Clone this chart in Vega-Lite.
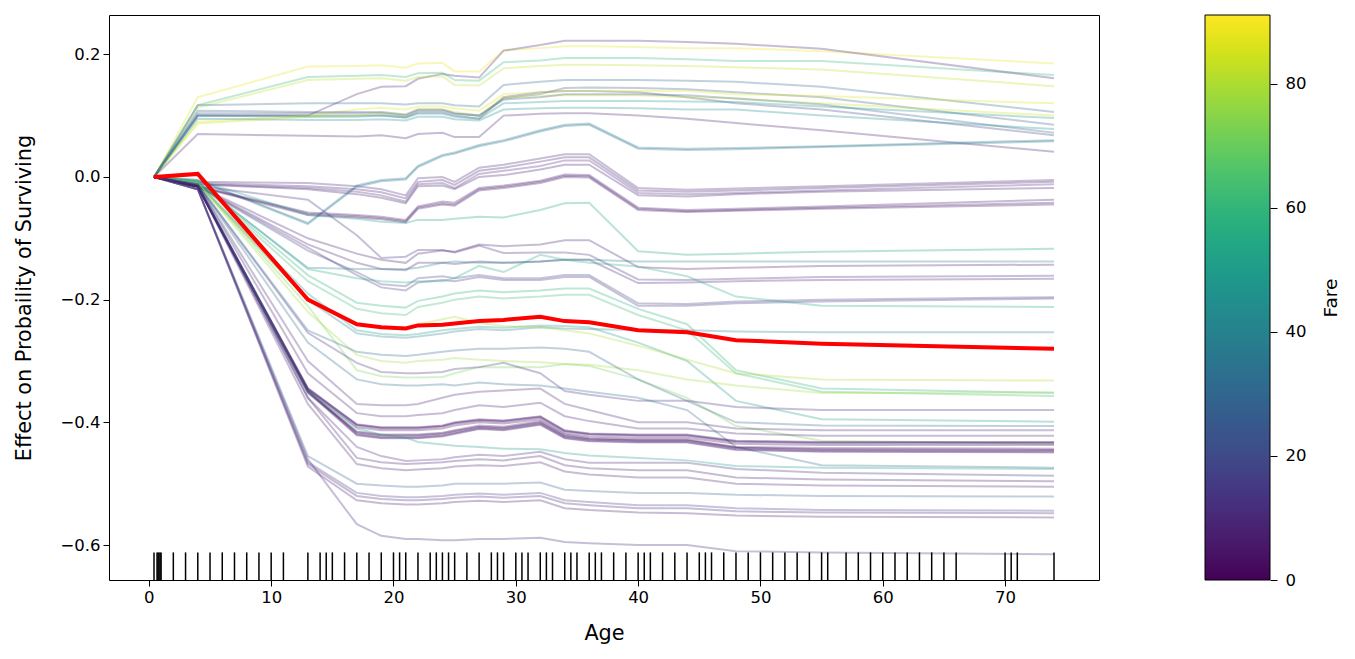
{
"$schema": "https://vega.github.io/schema/vega-lite/v6.json",
"width": 990, "height": 565,
"autosize": {"type": "none"},
"padding": {"left": 109, "top": 15, "right": 256, "bottom": 79},
"config": {"font": "DejaVu Sans", "view": {"stroke": "black", "strokeWidth": 1},
 "axis": {"labelFontSize": 16.5, "titleFontSize": 20.8, "labelColor": "black", "titleColor": "black", "tickColor": "black", "tickSize": 6, "tickWidth": 1, "grid": false, "domain": false, "titleFontWeight": "normal", "labelFont": "DejaVu Sans", "titleFont": "DejaVu Sans"},
 "legend": {"labelFont": "DejaVu Sans", "titleFont": "DejaVu Sans"}},
"datasets": {
"fares": [{"l":"U1","f":88},{"l":"U2","f":9},{"l":"U3","f":60},{"l":"U4","f":82},{"l":"U5","f":30},{"l":"U6","f":25},{"l":"U7","f":18},{"l":"U8","f":86},{"l":"U9","f":84},{"l":"U10","f":48},{"l":"U11","f":45},{"l":"U12","f":8},{"l":"U13","f":28},{"l":"S1","f":35},{"l":"S2","f":37},{"l":"N1","f":10},{"l":"N2","f":7},{"l":"N3","f":12},{"l":"N4","f":6},{"l":"P1","f":7},{"l":"P2","f":8},{"l":"P3","f":5},{"l":"T1","f":52},{"l":"Q1","f":12},{"l":"M1","f":7},{"l":"M2","f":9},{"l":"M3","f":18},{"l":"M4","f":14},{"l":"T2","f":40},{"l":"T4","f":55},{"l":"T5","f":58},{"l":"T6","f":62},{"l":"LB2","f":38},{"l":"T7","f":50},{"l":"Y1","f":80},{"l":"G1","f":72},{"l":"Y2","f":78},{"l":"PU1","f":12},{"l":"LB3","f":30},{"l":"LB4","f":32},{"l":"PK1","f":10},{"l":"LV3","f":9},{"l":"D1","f":6},{"l":"D2","f":7},{"l":"D3","f":4},{"l":"D4","f":8},{"l":"D5","f":11},{"l":"D6","f":5},{"l":"D7","f":7},{"l":"D8","f":3},{"l":"D9","f":6},{"l":"D10","f":9},{"l":"T3","f":50},{"l":"LV1","f":8},{"l":"LV2","f":9},{"l":"L1","f":10},{"l":"L2","f":28},{"l":"L3","f":15},{"l":"L4","f":10},{"l":"L5","f":8}],
"mean": [{"a":0.42,"v":0},{"a":4,"v":0.005},{"a":13,"v":-0.2},{"a":17,"v":-0.24},{"a":19,"v":-0.245},{"a":21,"v":-0.247},{"a":22,"v":-0.242},{"a":24,"v":-0.241},{"a":25,"v":-0.239},{"a":27,"v":-0.235},{"a":29,"v":-0.233},{"a":32,"v":-0.228},{"a":34,"v":-0.235},{"a":36,"v":-0.237},{"a":40,"v":-0.25},{"a":44,"v":-0.253},{"a":48,"v":-0.266},{"a":55,"v":-0.272},{"a":74,"v":-0.28}],
"rug": [{"a":0.42},{"a":0.67},{"a":0.75},{"a":0.83},{"a":0.92},{"a":1},{"a":2},{"a":3},{"a":4},{"a":5},{"a":6},{"a":7},{"a":8},{"a":9},{"a":10},{"a":11},{"a":13},{"a":14},{"a":14.5},{"a":15},{"a":16},{"a":17},{"a":18},{"a":19},{"a":20},{"a":20.5},{"a":21},{"a":22},{"a":23},{"a":23.5},{"a":24},{"a":24.5},{"a":25},{"a":26},{"a":27},{"a":28},{"a":28.5},{"a":29},{"a":30},{"a":30.5},{"a":31},{"a":32},{"a":32.5},{"a":33},{"a":34},{"a":34.5},{"a":35},{"a":36},{"a":36.5},{"a":37},{"a":38},{"a":39},{"a":40},{"a":40.5},{"a":41},{"a":42},{"a":43},{"a":44},{"a":45},{"a":45.5},{"a":46},{"a":47},{"a":48},{"a":49},{"a":50},{"a":51},{"a":52},{"a":53},{"a":54},{"a":55},{"a":55.5},{"a":57},{"a":58},{"a":59},{"a":60},{"a":61},{"a":62},{"a":63},{"a":64},{"a":65},{"a":66},{"a":70},{"a":70.5},{"a":71},{"a":74}],
"ice": [
{"l":"U1","a":0.42,"v":0},{"l":"U1","a":4,"v":0.13},{"l":"U1","a":13,"v":0.18},{"l":"U1","a":17,"v":0.181},{"l":"U1","a":19,"v":0.182},{"l":"U1","a":21,"v":0.178},{"l":"U1","a":22,"v":0.185},{"l":"U1","a":24,"v":0.186},{"l":"U1","a":25,"v":0.172},{"l":"U1","a":27,"v":0.172},{"l":"U1","a":29,"v":0.206},{"l":"U1","a":32,"v":0.21},{"l":"U1","a":34,"v":0.213},{"l":"U1","a":36,"v":0.213},{"l":"U1","a":40,"v":0.212},{"l":"U1","a":44,"v":0.21},{"l":"U1","a":48,"v":0.21},{"l":"U1","a":55,"v":0.205},{"l":"U1","a":74,"v":0.185},
{"l":"U2","a":0.42,"v":0},{"l":"U2","a":4,"v":0.1},{"l":"U2","a":13,"v":0.1},{"l":"U2","a":17,"v":0.135},{"l":"U2","a":19,"v":0.147},{"l":"U2","a":21,"v":0.148},{"l":"U2","a":22,"v":0.16},{"l":"U2","a":24,"v":0.168},{"l":"U2","a":25,"v":0.165},{"l":"U2","a":27,"v":0.162},{"l":"U2","a":29,"v":0.206},{"l":"U2","a":32,"v":0.215},{"l":"U2","a":34,"v":0.222},{"l":"U2","a":36,"v":0.222},{"l":"U2","a":40,"v":0.222},{"l":"U2","a":44,"v":0.22},{"l":"U2","a":48,"v":0.217},{"l":"U2","a":55,"v":0.209},{"l":"U2","a":74,"v":0.161},
{"l":"U3","a":0.42,"v":0},{"l":"U3","a":4,"v":0.117},{"l":"U3","a":13,"v":0.163},{"l":"U3","a":17,"v":0.165},{"l":"U3","a":19,"v":0.166},{"l":"U3","a":21,"v":0.163},{"l":"U3","a":22,"v":0.169},{"l":"U3","a":24,"v":0.17},{"l":"U3","a":25,"v":0.158},{"l":"U3","a":27,"v":0.157},{"l":"U3","a":29,"v":0.187},{"l":"U3","a":32,"v":0.19},{"l":"U3","a":34,"v":0.194},{"l":"U3","a":36,"v":0.194},{"l":"U3","a":40,"v":0.194},{"l":"U3","a":44,"v":0.192},{"l":"U3","a":48,"v":0.189},{"l":"U3","a":55,"v":0.189},{"l":"U3","a":74,"v":0.166},
{"l":"U4","a":0.42,"v":0},{"l":"U4","a":4,"v":0.113},{"l":"U4","a":13,"v":0.158},{"l":"U4","a":17,"v":0.16},{"l":"U4","a":19,"v":0.161},{"l":"U4","a":21,"v":0.157},{"l":"U4","a":22,"v":0.163},{"l":"U4","a":24,"v":0.164},{"l":"U4","a":25,"v":0.15},{"l":"U4","a":27,"v":0.149},{"l":"U4","a":29,"v":0.177},{"l":"U4","a":32,"v":0.181},{"l":"U4","a":34,"v":0.183},{"l":"U4","a":36,"v":0.183},{"l":"U4","a":40,"v":0.182},{"l":"U4","a":44,"v":0.181},{"l":"U4","a":48,"v":0.179},{"l":"U4","a":55,"v":0.175},{"l":"U4","a":74,"v":0.148},
{"l":"U5","a":0.42,"v":0},{"l":"U5","a":4,"v":0.117},{"l":"U5","a":13,"v":0.12},{"l":"U5","a":17,"v":0.12},{"l":"U5","a":19,"v":0.12},{"l":"U5","a":21,"v":0.118},{"l":"U5","a":22,"v":0.12},{"l":"U5","a":24,"v":0.12},{"l":"U5","a":25,"v":0.117},{"l":"U5","a":27,"v":0.115},{"l":"U5","a":29,"v":0.15},{"l":"U5","a":32,"v":0.155},{"l":"U5","a":34,"v":0.158},{"l":"U5","a":36,"v":0.158},{"l":"U5","a":40,"v":0.158},{"l":"U5","a":44,"v":0.157},{"l":"U5","a":48,"v":0.155},{"l":"U5","a":55,"v":0.147},{"l":"U5","a":74,"v":0.106},
{"l":"U6","a":0.42,"v":0},{"l":"U6","a":4,"v":0.104},{"l":"U6","a":13,"v":0.104},{"l":"U6","a":17,"v":0.104},{"l":"U6","a":19,"v":0.104},{"l":"U6","a":21,"v":0.1},{"l":"U6","a":22,"v":0.108},{"l":"U6","a":24,"v":0.108},{"l":"U6","a":25,"v":0.103},{"l":"U6","a":27,"v":0.1},{"l":"U6","a":29,"v":0.128},{"l":"U6","a":32,"v":0.135},{"l":"U6","a":34,"v":0.145},{"l":"U6","a":36,"v":0.146},{"l":"U6","a":40,"v":0.145},{"l":"U6","a":44,"v":0.143},{"l":"U6","a":48,"v":0.138},{"l":"U6","a":55,"v":0.13},{"l":"U6","a":74,"v":0.085},
{"l":"U7","a":0.42,"v":0},{"l":"U7","a":4,"v":0.1},{"l":"U7","a":13,"v":0.1},{"l":"U7","a":17,"v":0.1},{"l":"U7","a":19,"v":0.1},{"l":"U7","a":21,"v":0.097},{"l":"U7","a":22,"v":0.105},{"l":"U7","a":24,"v":0.105},{"l":"U7","a":25,"v":0.1},{"l":"U7","a":27,"v":0.095},{"l":"U7","a":29,"v":0.13},{"l":"U7","a":32,"v":0.138},{"l":"U7","a":34,"v":0.14},{"l":"U7","a":36,"v":0.14},{"l":"U7","a":40,"v":0.138},{"l":"U7","a":44,"v":0.13},{"l":"U7","a":48,"v":0.12},{"l":"U7","a":55,"v":0.11},{"l":"U7","a":74,"v":0.068},
{"l":"U8","a":0.42,"v":0},{"l":"U8","a":4,"v":0.09},{"l":"U8","a":13,"v":0.1},{"l":"U8","a":17,"v":0.11},{"l":"U8","a":19,"v":0.113},{"l":"U8","a":21,"v":0.11},{"l":"U8","a":22,"v":0.115},{"l":"U8","a":24,"v":0.115},{"l":"U8","a":25,"v":0.112},{"l":"U8","a":27,"v":0.108},{"l":"U8","a":29,"v":0.135},{"l":"U8","a":32,"v":0.138},{"l":"U8","a":34,"v":0.14},{"l":"U8","a":36,"v":0.14},{"l":"U8","a":40,"v":0.14},{"l":"U8","a":44,"v":0.14},{"l":"U8","a":48,"v":0.135},{"l":"U8","a":55,"v":0.132},{"l":"U8","a":74,"v":0.12},
{"l":"U9","a":0.42,"v":0},{"l":"U9","a":4,"v":0.087},{"l":"U9","a":13,"v":0.098},{"l":"U9","a":17,"v":0.1},{"l":"U9","a":19,"v":0.105},{"l":"U9","a":21,"v":0.1},{"l":"U9","a":22,"v":0.11},{"l":"U9","a":24,"v":0.11},{"l":"U9","a":25,"v":0.106},{"l":"U9","a":27,"v":0.1},{"l":"U9","a":29,"v":0.13},{"l":"U9","a":32,"v":0.132},{"l":"U9","a":34,"v":0.133},{"l":"U9","a":36,"v":0.133},{"l":"U9","a":40,"v":0.133},{"l":"U9","a":44,"v":0.13},{"l":"U9","a":48,"v":0.128},{"l":"U9","a":55,"v":0.12},{"l":"U9","a":74,"v":0.1},
{"l":"U10","a":0.42,"v":0},{"l":"U10","a":4,"v":0.1},{"l":"U10","a":13,"v":0.098},{"l":"U10","a":17,"v":0.098},{"l":"U10","a":19,"v":0.1},{"l":"U10","a":21,"v":0.097},{"l":"U10","a":22,"v":0.103},{"l":"U10","a":24,"v":0.103},{"l":"U10","a":25,"v":0.098},{"l":"U10","a":27,"v":0.095},{"l":"U10","a":29,"v":0.12},{"l":"U10","a":32,"v":0.122},{"l":"U10","a":34,"v":0.124},{"l":"U10","a":36,"v":0.124},{"l":"U10","a":40,"v":0.124},{"l":"U10","a":44,"v":0.123},{"l":"U10","a":48,"v":0.122},{"l":"U10","a":55,"v":0.115},{"l":"U10","a":74,"v":0.096},
{"l":"U11","a":0.42,"v":0},{"l":"U11","a":4,"v":0.095},{"l":"U11","a":13,"v":0.093},{"l":"U11","a":17,"v":0.093},{"l":"U11","a":19,"v":0.094},{"l":"U11","a":21,"v":0.092},{"l":"U11","a":22,"v":0.098},{"l":"U11","a":24,"v":0.098},{"l":"U11","a":25,"v":0.094},{"l":"U11","a":27,"v":0.092},{"l":"U11","a":29,"v":0.11},{"l":"U11","a":32,"v":0.112},{"l":"U11","a":34,"v":0.113},{"l":"U11","a":36,"v":0.113},{"l":"U11","a":40,"v":0.112},{"l":"U11","a":44,"v":0.11},{"l":"U11","a":48,"v":0.11},{"l":"U11","a":55,"v":0.1},{"l":"U11","a":74,"v":0.078},
{"l":"U12","a":0.42,"v":0},{"l":"U12","a":4,"v":0.07},{"l":"U12","a":13,"v":0.067},{"l":"U12","a":17,"v":0.066},{"l":"U12","a":19,"v":0.068},{"l":"U12","a":21,"v":0.063},{"l":"U12","a":22,"v":0.07},{"l":"U12","a":24,"v":0.072},{"l":"U12","a":25,"v":0.065},{"l":"U12","a":27,"v":0.065},{"l":"U12","a":29,"v":0.1},{"l":"U12","a":32,"v":0.103},{"l":"U12","a":34,"v":0.104},{"l":"U12","a":36,"v":0.104},{"l":"U12","a":40,"v":0.1},{"l":"U12","a":44,"v":0.095},{"l":"U12","a":48,"v":0.088},{"l":"U12","a":55,"v":0.076},{"l":"U12","a":74,"v":0.041},
{"l":"U13","a":0.42,"v":0},{"l":"U13","a":4,"v":0.108},{"l":"U13","a":13,"v":0.106},{"l":"U13","a":17,"v":0.106},{"l":"U13","a":19,"v":0.106},{"l":"U13","a":21,"v":0.102},{"l":"U13","a":22,"v":0.11},{"l":"U13","a":24,"v":0.11},{"l":"U13","a":25,"v":0.104},{"l":"U13","a":27,"v":0.1},{"l":"U13","a":29,"v":0.126},{"l":"U13","a":32,"v":0.13},{"l":"U13","a":34,"v":0.135},{"l":"U13","a":36,"v":0.135},{"l":"U13","a":40,"v":0.135},{"l":"U13","a":44,"v":0.133},{"l":"U13","a":48,"v":0.128},{"l":"U13","a":55,"v":0.118},{"l":"U13","a":74,"v":0.072},
{"l":"S1","a":0.42,"v":0},{"l":"S1","a":4,"v":-0.005},{"l":"S1","a":13,"v":-0.075},{"l":"S1","a":17,"v":-0.014},{"l":"S1","a":19,"v":-0.005},{"l":"S1","a":21,"v":-0.002},{"l":"S1","a":22,"v":0.018},{"l":"S1","a":24,"v":0.036},{"l":"S1","a":25,"v":0.04},{"l":"S1","a":27,"v":0.052},{"l":"S1","a":29,"v":0.06},{"l":"S1","a":32,"v":0.076},{"l":"S1","a":34,"v":0.085},{"l":"S1","a":36,"v":0.087},{"l":"S1","a":40,"v":0.048},{"l":"S1","a":44,"v":0.046},{"l":"S1","a":48,"v":0.047},{"l":"S1","a":55,"v":0.05},{"l":"S1","a":74,"v":0.06},
{"l":"S2","a":0.42,"v":0},{"l":"S2","a":4,"v":-0.006},{"l":"S2","a":13,"v":-0.077},{"l":"S2","a":17,"v":-0.016},{"l":"S2","a":19,"v":-0.007},{"l":"S2","a":21,"v":-0.004},{"l":"S2","a":22,"v":0.016},{"l":"S2","a":24,"v":0.034},{"l":"S2","a":25,"v":0.038},{"l":"S2","a":27,"v":0.05},{"l":"S2","a":29,"v":0.058},{"l":"S2","a":32,"v":0.074},{"l":"S2","a":34,"v":0.083},{"l":"S2","a":36,"v":0.085},{"l":"S2","a":40,"v":0.046},{"l":"S2","a":44,"v":0.044},{"l":"S2","a":48,"v":0.045},{"l":"S2","a":55,"v":0.049},{"l":"S2","a":74,"v":0.058},
{"l":"N1","a":0.42,"v":0},{"l":"N1","a":4,"v":-0.008},{"l":"N1","a":13,"v":-0.01},{"l":"N1","a":17,"v":-0.015},{"l":"N1","a":19,"v":-0.02},{"l":"N1","a":21,"v":-0.03},{"l":"N1","a":22,"v":-0.002},{"l":"N1","a":24,"v":0},{"l":"N1","a":25,"v":-0.008},{"l":"N1","a":27,"v":0.015},{"l":"N1","a":29,"v":0.02},{"l":"N1","a":32,"v":0.03},{"l":"N1","a":34,"v":0.037},{"l":"N1","a":36,"v":0.037},{"l":"N1","a":40,"v":-0.018},{"l":"N1","a":44,"v":-0.021},{"l":"N1","a":48,"v":-0.019},{"l":"N1","a":55,"v":-0.015},{"l":"N1","a":74,"v":-0.005},
{"l":"N2","a":0.42,"v":0},{"l":"N2","a":4,"v":-0.01},{"l":"N2","a":13,"v":-0.015},{"l":"N2","a":17,"v":-0.02},{"l":"N2","a":19,"v":-0.025},{"l":"N2","a":21,"v":-0.035},{"l":"N2","a":22,"v":-0.008},{"l":"N2","a":24,"v":-0.005},{"l":"N2","a":25,"v":-0.013},{"l":"N2","a":27,"v":0.01},{"l":"N2","a":29,"v":0.015},{"l":"N2","a":32,"v":0.025},{"l":"N2","a":34,"v":0.032},{"l":"N2","a":36,"v":0.032},{"l":"N2","a":40,"v":-0.022},{"l":"N2","a":44,"v":-0.024},{"l":"N2","a":48,"v":-0.022},{"l":"N2","a":55,"v":-0.018},{"l":"N2","a":74,"v":-0.008},
{"l":"N3","a":0.42,"v":0},{"l":"N3","a":4,"v":-0.012},{"l":"N3","a":13,"v":-0.018},{"l":"N3","a":17,"v":-0.024},{"l":"N3","a":19,"v":-0.03},{"l":"N3","a":21,"v":-0.04},{"l":"N3","a":22,"v":-0.012},{"l":"N3","a":24,"v":-0.01},{"l":"N3","a":25,"v":-0.018},{"l":"N3","a":27,"v":0.005},{"l":"N3","a":29,"v":0.01},{"l":"N3","a":32,"v":0.018},{"l":"N3","a":34,"v":0.027},{"l":"N3","a":36,"v":0.027},{"l":"N3","a":40,"v":-0.026},{"l":"N3","a":44,"v":-0.028},{"l":"N3","a":48,"v":-0.026},{"l":"N3","a":55,"v":-0.022},{"l":"N3","a":74,"v":-0.012},
{"l":"N4","a":0.42,"v":0},{"l":"N4","a":4,"v":-0.012},{"l":"N4","a":13,"v":-0.02},{"l":"N4","a":17,"v":-0.028},{"l":"N4","a":19,"v":-0.034},{"l":"N4","a":21,"v":-0.043},{"l":"N4","a":22,"v":-0.015},{"l":"N4","a":24,"v":-0.014},{"l":"N4","a":25,"v":-0.02},{"l":"N4","a":27,"v":0},{"l":"N4","a":29,"v":0.003},{"l":"N4","a":32,"v":0.012},{"l":"N4","a":34,"v":0.02},{"l":"N4","a":36,"v":0.02},{"l":"N4","a":40,"v":-0.03},{"l":"N4","a":44,"v":-0.032},{"l":"N4","a":48,"v":-0.028},{"l":"N4","a":55,"v":-0.024},{"l":"N4","a":74,"v":-0.018},
{"l":"P1","a":0.42,"v":0},{"l":"P1","a":4,"v":-0.015},{"l":"P1","a":13,"v":-0.058},{"l":"P1","a":17,"v":-0.062},{"l":"P1","a":19,"v":-0.065},{"l":"P1","a":21,"v":-0.07},{"l":"P1","a":22,"v":-0.048},{"l":"P1","a":24,"v":-0.04},{"l":"P1","a":25,"v":-0.042},{"l":"P1","a":27,"v":-0.018},{"l":"P1","a":29,"v":-0.014},{"l":"P1","a":32,"v":-0.006},{"l":"P1","a":34,"v":0.004},{"l":"P1","a":36,"v":0.003},{"l":"P1","a":40,"v":-0.05},{"l":"P1","a":44,"v":-0.054},{"l":"P1","a":48,"v":-0.052},{"l":"P1","a":55,"v":-0.048},{"l":"P1","a":74,"v":-0.037},
{"l":"P2","a":0.42,"v":0},{"l":"P2","a":4,"v":-0.015},{"l":"P2","a":13,"v":-0.06},{"l":"P2","a":17,"v":-0.064},{"l":"P2","a":19,"v":-0.067},{"l":"P2","a":21,"v":-0.072},{"l":"P2","a":22,"v":-0.05},{"l":"P2","a":24,"v":-0.043},{"l":"P2","a":25,"v":-0.045},{"l":"P2","a":27,"v":-0.02},{"l":"P2","a":29,"v":-0.016},{"l":"P2","a":32,"v":-0.008},{"l":"P2","a":34,"v":0.002},{"l":"P2","a":36,"v":0.001},{"l":"P2","a":40,"v":-0.052},{"l":"P2","a":44,"v":-0.056},{"l":"P2","a":48,"v":-0.054},{"l":"P2","a":55,"v":-0.05},{"l":"P2","a":74,"v":-0.042},
{"l":"P3","a":0.42,"v":0},{"l":"P3","a":4,"v":-0.016},{"l":"P3","a":13,"v":-0.062},{"l":"P3","a":17,"v":-0.066},{"l":"P3","a":19,"v":-0.069},{"l":"P3","a":21,"v":-0.074},{"l":"P3","a":22,"v":-0.052},{"l":"P3","a":24,"v":-0.045},{"l":"P3","a":25,"v":-0.047},{"l":"P3","a":27,"v":-0.022},{"l":"P3","a":29,"v":-0.018},{"l":"P3","a":32,"v":-0.01},{"l":"P3","a":34,"v":0},{"l":"P3","a":36,"v":-0.001},{"l":"P3","a":40,"v":-0.054},{"l":"P3","a":44,"v":-0.057},{"l":"P3","a":48,"v":-0.055},{"l":"P3","a":55,"v":-0.052},{"l":"P3","a":74,"v":-0.045},
{"l":"T1","a":0.42,"v":0},{"l":"T1","a":4,"v":-0.005},{"l":"T1","a":13,"v":-0.062},{"l":"T1","a":17,"v":-0.068},{"l":"T1","a":19,"v":-0.073},{"l":"T1","a":21,"v":-0.075},{"l":"T1","a":22,"v":-0.07},{"l":"T1","a":24,"v":-0.07},{"l":"T1","a":25,"v":-0.068},{"l":"T1","a":27,"v":-0.065},{"l":"T1","a":29,"v":-0.066},{"l":"T1","a":32,"v":-0.054},{"l":"T1","a":34,"v":-0.043},{"l":"T1","a":36,"v":-0.042},{"l":"T1","a":40,"v":-0.121},{"l":"T1","a":44,"v":-0.127},{"l":"T1","a":48,"v":-0.125},{"l":"T1","a":55,"v":-0.122},{"l":"T1","a":74,"v":-0.117},
{"l":"Q1","a":0.42,"v":0},{"l":"Q1","a":4,"v":-0.015},{"l":"Q1","a":13,"v":-0.037},{"l":"Q1","a":17,"v":-0.095},{"l":"Q1","a":19,"v":-0.132},{"l":"Q1","a":21,"v":-0.13},{"l":"Q1","a":22,"v":-0.119},{"l":"Q1","a":24,"v":-0.119},{"l":"Q1","a":25,"v":-0.123},{"l":"Q1","a":27,"v":-0.112},{"l":"Q1","a":29,"v":-0.124},{"l":"Q1","a":32,"v":-0.123},{"l":"Q1","a":34,"v":-0.123},{"l":"Q1","a":36,"v":-0.127},{"l":"Q1","a":40,"v":-0.167},{"l":"Q1","a":44,"v":-0.168},{"l":"Q1","a":48,"v":-0.166},{"l":"Q1","a":55,"v":-0.163},{"l":"Q1","a":74,"v":-0.161},
{"l":"M1","a":0.42,"v":0},{"l":"M1","a":4,"v":-0.015},{"l":"M1","a":13,"v":-0.1},{"l":"M1","a":17,"v":-0.125},{"l":"M1","a":19,"v":-0.135},{"l":"M1","a":21,"v":-0.14},{"l":"M1","a":22,"v":-0.125},{"l":"M1","a":24,"v":-0.12},{"l":"M1","a":25,"v":-0.122},{"l":"M1","a":27,"v":-0.11},{"l":"M1","a":29,"v":-0.113},{"l":"M1","a":32,"v":-0.11},{"l":"M1","a":34,"v":-0.103},{"l":"M1","a":36,"v":-0.103},{"l":"M1","a":40,"v":-0.147},{"l":"M1","a":44,"v":-0.15},{"l":"M1","a":48,"v":-0.148},{"l":"M1","a":55,"v":-0.145},{"l":"M1","a":74,"v":-0.143},
{"l":"M2","a":0.42,"v":0},{"l":"M2","a":4,"v":-0.015},{"l":"M2","a":13,"v":-0.11},{"l":"M2","a":17,"v":-0.14},{"l":"M2","a":19,"v":-0.15},{"l":"M2","a":21,"v":-0.152},{"l":"M2","a":22,"v":-0.14},{"l":"M2","a":24,"v":-0.14},{"l":"M2","a":25,"v":-0.142},{"l":"M2","a":27,"v":-0.138},{"l":"M2","a":29,"v":-0.14},{"l":"M2","a":32,"v":-0.138},{"l":"M2","a":34,"v":-0.135},{"l":"M2","a":36,"v":-0.135},{"l":"M2","a":40,"v":-0.173},{"l":"M2","a":44,"v":-0.172},{"l":"M2","a":48,"v":-0.17},{"l":"M2","a":55,"v":-0.168},{"l":"M2","a":74,"v":-0.166},
{"l":"M3","a":0.42,"v":0},{"l":"M3","a":4,"v":-0.015},{"l":"M3","a":13,"v":-0.12},{"l":"M3","a":17,"v":-0.155},{"l":"M3","a":19,"v":-0.175},{"l":"M3","a":21,"v":-0.178},{"l":"M3","a":22,"v":-0.165},{"l":"M3","a":24,"v":-0.162},{"l":"M3","a":25,"v":-0.165},{"l":"M3","a":27,"v":-0.16},{"l":"M3","a":29,"v":-0.165},{"l":"M3","a":32,"v":-0.165},{"l":"M3","a":34,"v":-0.16},{"l":"M3","a":36,"v":-0.16},{"l":"M3","a":40,"v":-0.206},{"l":"M3","a":44,"v":-0.207},{"l":"M3","a":48,"v":-0.203},{"l":"M3","a":55,"v":-0.2},{"l":"M3","a":74,"v":-0.196},
{"l":"M4","a":0.42,"v":0},{"l":"M4","a":4,"v":-0.015},{"l":"M4","a":13,"v":-0.115},{"l":"M4","a":17,"v":-0.16},{"l":"M4","a":19,"v":-0.18},{"l":"M4","a":21,"v":-0.185},{"l":"M4","a":22,"v":-0.172},{"l":"M4","a":24,"v":-0.168},{"l":"M4","a":25,"v":-0.17},{"l":"M4","a":27,"v":-0.163},{"l":"M4","a":29,"v":-0.168},{"l":"M4","a":32,"v":-0.168},{"l":"M4","a":34,"v":-0.163},{"l":"M4","a":36,"v":-0.163},{"l":"M4","a":40,"v":-0.21},{"l":"M4","a":44,"v":-0.21},{"l":"M4","a":48,"v":-0.206},{"l":"M4","a":55,"v":-0.203},{"l":"M4","a":74,"v":-0.198},
{"l":"T2","a":0.42,"v":0},{"l":"T2","a":4,"v":-0.01},{"l":"T2","a":13,"v":-0.148},{"l":"T2","a":17,"v":-0.15},{"l":"T2","a":19,"v":-0.15},{"l":"T2","a":21,"v":-0.15},{"l":"T2","a":22,"v":-0.148},{"l":"T2","a":24,"v":-0.14},{"l":"T2","a":25,"v":-0.138},{"l":"T2","a":27,"v":-0.14},{"l":"T2","a":29,"v":-0.14},{"l":"T2","a":32,"v":-0.138},{"l":"T2","a":34,"v":-0.135},{"l":"T2","a":36,"v":-0.135},{"l":"T2","a":40,"v":-0.138},{"l":"T2","a":44,"v":-0.138},{"l":"T2","a":48,"v":-0.138},{"l":"T2","a":55,"v":-0.138},{"l":"T2","a":74,"v":-0.138},
{"l":"T4","a":0.42,"v":0},{"l":"T4","a":4,"v":-0.008},{"l":"T4","a":13,"v":-0.15},{"l":"T4","a":17,"v":-0.165},{"l":"T4","a":19,"v":-0.17},{"l":"T4","a":21,"v":-0.172},{"l":"T4","a":22,"v":-0.17},{"l":"T4","a":24,"v":-0.17},{"l":"T4","a":25,"v":-0.165},{"l":"T4","a":27,"v":-0.145},{"l":"T4","a":29,"v":-0.155},{"l":"T4","a":32,"v":-0.127},{"l":"T4","a":34,"v":-0.135},{"l":"T4","a":36,"v":-0.14},{"l":"T4","a":40,"v":-0.146},{"l":"T4","a":44,"v":-0.162},{"l":"T4","a":48,"v":-0.195},{"l":"T4","a":55,"v":-0.21},{"l":"T4","a":74,"v":-0.212},
{"l":"T5","a":0.42,"v":0},{"l":"T5","a":4,"v":-0.008},{"l":"T5","a":13,"v":-0.16},{"l":"T5","a":17,"v":-0.205},{"l":"T5","a":19,"v":-0.21},{"l":"T5","a":21,"v":-0.213},{"l":"T5","a":22,"v":-0.202},{"l":"T5","a":24,"v":-0.195},{"l":"T5","a":25,"v":-0.19},{"l":"T5","a":27,"v":-0.185},{"l":"T5","a":29,"v":-0.188},{"l":"T5","a":32,"v":-0.185},{"l":"T5","a":34,"v":-0.182},{"l":"T5","a":36,"v":-0.182},{"l":"T5","a":40,"v":-0.215},{"l":"T5","a":44,"v":-0.24},{"l":"T5","a":48,"v":-0.315},{"l":"T5","a":55,"v":-0.345},{"l":"T5","a":74,"v":-0.352},
{"l":"T6","a":0.42,"v":0},{"l":"T6","a":4,"v":-0.008},{"l":"T6","a":13,"v":-0.17},{"l":"T6","a":17,"v":-0.215},{"l":"T6","a":19,"v":-0.222},{"l":"T6","a":21,"v":-0.225},{"l":"T6","a":22,"v":-0.212},{"l":"T6","a":24,"v":-0.205},{"l":"T6","a":25,"v":-0.2},{"l":"T6","a":27,"v":-0.195},{"l":"T6","a":29,"v":-0.198},{"l":"T6","a":32,"v":-0.195},{"l":"T6","a":34,"v":-0.192},{"l":"T6","a":36,"v":-0.192},{"l":"T6","a":40,"v":-0.225},{"l":"T6","a":44,"v":-0.25},{"l":"T6","a":48,"v":-0.32},{"l":"T6","a":55,"v":-0.35},{"l":"T6","a":74,"v":-0.357},
{"l":"LB2","a":0.42,"v":0},{"l":"LB2","a":4,"v":-0.01},{"l":"LB2","a":13,"v":-0.2},{"l":"LB2","a":17,"v":-0.255},{"l":"LB2","a":19,"v":-0.26},{"l":"LB2","a":21,"v":-0.262},{"l":"LB2","a":22,"v":-0.26},{"l":"LB2","a":24,"v":-0.255},{"l":"LB2","a":25,"v":-0.252},{"l":"LB2","a":27,"v":-0.248},{"l":"LB2","a":29,"v":-0.25},{"l":"LB2","a":32,"v":-0.245},{"l":"LB2","a":34,"v":-0.247},{"l":"LB2","a":36,"v":-0.248},{"l":"LB2","a":40,"v":-0.25},{"l":"LB2","a":44,"v":-0.25},{"l":"LB2","a":48,"v":-0.252},{"l":"LB2","a":55,"v":-0.253},{"l":"LB2","a":74,"v":-0.253},
{"l":"T7","a":0.42,"v":0},{"l":"T7","a":4,"v":-0.01},{"l":"T7","a":13,"v":-0.19},{"l":"T7","a":17,"v":-0.25},{"l":"T7","a":19,"v":-0.256},{"l":"T7","a":21,"v":-0.258},{"l":"T7","a":22,"v":-0.256},{"l":"T7","a":24,"v":-0.25},{"l":"T7","a":25,"v":-0.248},{"l":"T7","a":27,"v":-0.244},{"l":"T7","a":29,"v":-0.246},{"l":"T7","a":32,"v":-0.242},{"l":"T7","a":34,"v":-0.243},{"l":"T7","a":36,"v":-0.245},{"l":"T7","a":40,"v":-0.27},{"l":"T7","a":44,"v":-0.3},{"l":"T7","a":48,"v":-0.365},{"l":"T7","a":55,"v":-0.395},{"l":"T7","a":74,"v":-0.399},
{"l":"Y1","a":0.42,"v":0},{"l":"Y1","a":4,"v":-0.01},{"l":"Y1","a":13,"v":-0.2},{"l":"Y1","a":17,"v":-0.24},{"l":"Y1","a":19,"v":-0.245},{"l":"Y1","a":21,"v":-0.245},{"l":"Y1","a":22,"v":-0.24},{"l":"Y1","a":24,"v":-0.232},{"l":"Y1","a":25,"v":-0.228},{"l":"Y1","a":27,"v":-0.238},{"l":"Y1","a":29,"v":-0.243},{"l":"Y1","a":32,"v":-0.245},{"l":"Y1","a":34,"v":-0.25},{"l":"Y1","a":36,"v":-0.255},{"l":"Y1","a":40,"v":-0.275},{"l":"Y1","a":44,"v":-0.298},{"l":"Y1","a":48,"v":-0.32},{"l":"Y1","a":55,"v":-0.33},{"l":"Y1","a":74,"v":-0.332},
{"l":"G1","a":0.42,"v":0},{"l":"G1","a":4,"v":-0.01},{"l":"G1","a":13,"v":-0.21},{"l":"G1","a":17,"v":-0.315},{"l":"G1","a":19,"v":-0.325},{"l":"G1","a":21,"v":-0.327},{"l":"G1","a":22,"v":-0.327},{"l":"G1","a":24,"v":-0.326},{"l":"G1","a":25,"v":-0.32},{"l":"G1","a":27,"v":-0.31},{"l":"G1","a":29,"v":-0.31},{"l":"G1","a":32,"v":-0.31},{"l":"G1","a":34,"v":-0.305},{"l":"G1","a":36,"v":-0.308},{"l":"G1","a":40,"v":-0.33},{"l":"G1","a":44,"v":-0.36},{"l":"G1","a":48,"v":-0.406},{"l":"G1","a":55,"v":-0.43},{"l":"G1","a":74,"v":-0.435},
{"l":"Y2","a":0.42,"v":0},{"l":"Y2","a":4,"v":-0.01},{"l":"Y2","a":13,"v":-0.22},{"l":"Y2","a":17,"v":-0.29},{"l":"Y2","a":19,"v":-0.3},{"l":"Y2","a":21,"v":-0.303},{"l":"Y2","a":22,"v":-0.3},{"l":"Y2","a":24,"v":-0.298},{"l":"Y2","a":25,"v":-0.295},{"l":"Y2","a":27,"v":-0.298},{"l":"Y2","a":29,"v":-0.3},{"l":"Y2","a":32,"v":-0.302},{"l":"Y2","a":34,"v":-0.305},{"l":"Y2","a":36,"v":-0.306},{"l":"Y2","a":40,"v":-0.315},{"l":"Y2","a":44,"v":-0.33},{"l":"Y2","a":48,"v":-0.34},{"l":"Y2","a":55,"v":-0.352},{"l":"Y2","a":74,"v":-0.351},
{"l":"PU1","a":0.42,"v":0},{"l":"PU1","a":4,"v":-0.012},{"l":"PU1","a":13,"v":-0.254},{"l":"PU1","a":17,"v":-0.303},{"l":"PU1","a":19,"v":-0.318},{"l":"PU1","a":21,"v":-0.32},{"l":"PU1","a":22,"v":-0.32},{"l":"PU1","a":24,"v":-0.318},{"l":"PU1","a":25,"v":-0.313},{"l":"PU1","a":27,"v":-0.31},{"l":"PU1","a":29,"v":-0.303},{"l":"PU1","a":32,"v":-0.32},{"l":"PU1","a":34,"v":-0.349},{"l":"PU1","a":36,"v":-0.355},{"l":"PU1","a":40,"v":-0.365},{"l":"PU1","a":44,"v":-0.365},{"l":"PU1","a":48,"v":-0.375},{"l":"PU1","a":55,"v":-0.38},{"l":"PU1","a":74,"v":-0.38},
{"l":"LB3","a":0.42,"v":0},{"l":"LB3","a":4,"v":-0.012},{"l":"LB3","a":13,"v":-0.25},{"l":"LB3","a":17,"v":-0.285},{"l":"LB3","a":19,"v":-0.29},{"l":"LB3","a":21,"v":-0.292},{"l":"LB3","a":22,"v":-0.29},{"l":"LB3","a":24,"v":-0.285},{"l":"LB3","a":25,"v":-0.283},{"l":"LB3","a":27,"v":-0.28},{"l":"LB3","a":29,"v":-0.28},{"l":"LB3","a":32,"v":-0.278},{"l":"LB3","a":34,"v":-0.28},{"l":"LB3","a":36,"v":-0.285},{"l":"LB3","a":40,"v":-0.33},{"l":"LB3","a":44,"v":-0.365},{"l":"LB3","a":48,"v":-0.4},{"l":"LB3","a":55,"v":-0.405},{"l":"LB3","a":74,"v":-0.406},
{"l":"LB4","a":0.42,"v":0},{"l":"LB4","a":4,"v":-0.012},{"l":"LB4","a":13,"v":-0.27},{"l":"LB4","a":17,"v":-0.33},{"l":"LB4","a":19,"v":-0.338},{"l":"LB4","a":21,"v":-0.34},{"l":"LB4","a":22,"v":-0.34},{"l":"LB4","a":24,"v":-0.338},{"l":"LB4","a":25,"v":-0.34},{"l":"LB4","a":27,"v":-0.335},{"l":"LB4","a":29,"v":-0.338},{"l":"LB4","a":32,"v":-0.34},{"l":"LB4","a":34,"v":-0.345},{"l":"LB4","a":36,"v":-0.35},{"l":"LB4","a":40,"v":-0.36},{"l":"LB4","a":44,"v":-0.38},{"l":"LB4","a":48,"v":-0.44},{"l":"LB4","a":55,"v":-0.47},{"l":"LB4","a":74,"v":-0.474},
{"l":"PK1","a":0.42,"v":0},{"l":"PK1","a":4,"v":-0.013},{"l":"PK1","a":13,"v":-0.3},{"l":"PK1","a":17,"v":-0.37},{"l":"PK1","a":19,"v":-0.372},{"l":"PK1","a":21,"v":-0.372},{"l":"PK1","a":22,"v":-0.37},{"l":"PK1","a":24,"v":-0.36},{"l":"PK1","a":25,"v":-0.355},{"l":"PK1","a":27,"v":-0.35},{"l":"PK1","a":29,"v":-0.348},{"l":"PK1","a":32,"v":-0.345},{"l":"PK1","a":34,"v":-0.37},{"l":"PK1","a":36,"v":-0.38},{"l":"PK1","a":40,"v":-0.4},{"l":"PK1","a":44,"v":-0.4},{"l":"PK1","a":48,"v":-0.41},{"l":"PK1","a":55,"v":-0.413},{"l":"PK1","a":74,"v":-0.413},
{"l":"LV3","a":0.42,"v":0},{"l":"LV3","a":4,"v":-0.013},{"l":"LV3","a":13,"v":-0.32},{"l":"LV3","a":17,"v":-0.385},{"l":"LV3","a":19,"v":-0.39},{"l":"LV3","a":21,"v":-0.39},{"l":"LV3","a":22,"v":-0.388},{"l":"LV3","a":24,"v":-0.385},{"l":"LV3","a":25,"v":-0.38},{"l":"LV3","a":27,"v":-0.372},{"l":"LV3","a":29,"v":-0.375},{"l":"LV3","a":32,"v":-0.368},{"l":"LV3","a":34,"v":-0.39},{"l":"LV3","a":36,"v":-0.398},{"l":"LV3","a":40,"v":-0.41},{"l":"LV3","a":44,"v":-0.41},{"l":"LV3","a":48,"v":-0.418},{"l":"LV3","a":55,"v":-0.422},{"l":"LV3","a":74,"v":-0.422},
{"l":"D1","a":0.42,"v":0},{"l":"D1","a":4,"v":-0.015},{"l":"D1","a":13,"v":-0.345},{"l":"D1","a":17,"v":-0.403},{"l":"D1","a":19,"v":-0.408},{"l":"D1","a":21,"v":-0.408},{"l":"D1","a":22,"v":-0.408},{"l":"D1","a":24,"v":-0.405},{"l":"D1","a":25,"v":-0.4},{"l":"D1","a":27,"v":-0.395},{"l":"D1","a":29,"v":-0.397},{"l":"D1","a":32,"v":-0.39},{"l":"D1","a":34,"v":-0.413},{"l":"D1","a":36,"v":-0.418},{"l":"D1","a":40,"v":-0.42},{"l":"D1","a":44,"v":-0.42},{"l":"D1","a":48,"v":-0.43},{"l":"D1","a":55,"v":-0.432},{"l":"D1","a":74,"v":-0.432},
{"l":"D2","a":0.42,"v":0},{"l":"D2","a":4,"v":-0.015},{"l":"D2","a":13,"v":-0.35},{"l":"D2","a":17,"v":-0.42},{"l":"D2","a":19,"v":-0.425},{"l":"D2","a":21,"v":-0.425},{"l":"D2","a":22,"v":-0.425},{"l":"D2","a":24,"v":-0.422},{"l":"D2","a":25,"v":-0.418},{"l":"D2","a":27,"v":-0.41},{"l":"D2","a":29,"v":-0.412},{"l":"D2","a":32,"v":-0.403},{"l":"D2","a":34,"v":-0.425},{"l":"D2","a":36,"v":-0.43},{"l":"D2","a":40,"v":-0.432},{"l":"D2","a":44,"v":-0.432},{"l":"D2","a":48,"v":-0.444},{"l":"D2","a":55,"v":-0.447},{"l":"D2","a":74,"v":-0.448},
{"l":"D3","a":0.42,"v":0},{"l":"D3","a":4,"v":-0.016},{"l":"D3","a":13,"v":-0.347},{"l":"D3","a":17,"v":-0.408},{"l":"D3","a":19,"v":-0.413},{"l":"D3","a":21,"v":-0.413},{"l":"D3","a":22,"v":-0.413},{"l":"D3","a":24,"v":-0.41},{"l":"D3","a":25,"v":-0.405},{"l":"D3","a":27,"v":-0.4},{"l":"D3","a":29,"v":-0.402},{"l":"D3","a":32,"v":-0.395},{"l":"D3","a":34,"v":-0.418},{"l":"D3","a":36,"v":-0.423},{"l":"D3","a":40,"v":-0.425},{"l":"D3","a":44,"v":-0.425},{"l":"D3","a":48,"v":-0.435},{"l":"D3","a":55,"v":-0.437},{"l":"D3","a":74,"v":-0.437},
{"l":"D4","a":0.42,"v":0},{"l":"D4","a":4,"v":-0.016},{"l":"D4","a":13,"v":-0.352},{"l":"D4","a":17,"v":-0.415},{"l":"D4","a":19,"v":-0.42},{"l":"D4","a":21,"v":-0.42},{"l":"D4","a":22,"v":-0.42},{"l":"D4","a":24,"v":-0.417},{"l":"D4","a":25,"v":-0.413},{"l":"D4","a":27,"v":-0.405},{"l":"D4","a":29,"v":-0.407},{"l":"D4","a":32,"v":-0.398},{"l":"D4","a":34,"v":-0.42},{"l":"D4","a":36,"v":-0.426},{"l":"D4","a":40,"v":-0.428},{"l":"D4","a":44,"v":-0.428},{"l":"D4","a":48,"v":-0.44},{"l":"D4","a":55,"v":-0.442},{"l":"D4","a":74,"v":-0.443},
{"l":"D6","a":0.42,"v":0},{"l":"D6","a":4,"v":-0.015},{"l":"D6","a":13,"v":-0.348},{"l":"D6","a":17,"v":-0.416},{"l":"D6","a":19,"v":-0.421},{"l":"D6","a":21,"v":-0.421},{"l":"D6","a":22,"v":-0.421},{"l":"D6","a":24,"v":-0.418},{"l":"D6","a":25,"v":-0.414},{"l":"D6","a":27,"v":-0.407},{"l":"D6","a":29,"v":-0.409},{"l":"D6","a":32,"v":-0.4},{"l":"D6","a":34,"v":-0.422},{"l":"D6","a":36,"v":-0.427},{"l":"D6","a":40,"v":-0.429},{"l":"D6","a":44,"v":-0.429},{"l":"D6","a":48,"v":-0.441},{"l":"D6","a":55,"v":-0.444},{"l":"D6","a":74,"v":-0.445},
{"l":"D7","a":0.42,"v":0},{"l":"D7","a":4,"v":-0.016},{"l":"D7","a":13,"v":-0.344},{"l":"D7","a":17,"v":-0.405},{"l":"D7","a":19,"v":-0.41},{"l":"D7","a":21,"v":-0.41},{"l":"D7","a":22,"v":-0.41},{"l":"D7","a":24,"v":-0.407},{"l":"D7","a":25,"v":-0.402},{"l":"D7","a":27,"v":-0.397},{"l":"D7","a":29,"v":-0.399},{"l":"D7","a":32,"v":-0.392},{"l":"D7","a":34,"v":-0.415},{"l":"D7","a":36,"v":-0.42},{"l":"D7","a":40,"v":-0.422},{"l":"D7","a":44,"v":-0.422},{"l":"D7","a":48,"v":-0.432},{"l":"D7","a":55,"v":-0.434},{"l":"D7","a":74,"v":-0.434},
{"l":"D8","a":0.42,"v":0},{"l":"D8","a":4,"v":-0.015},{"l":"D8","a":13,"v":-0.349},{"l":"D8","a":17,"v":-0.418},{"l":"D8","a":19,"v":-0.423},{"l":"D8","a":21,"v":-0.423},{"l":"D8","a":22,"v":-0.423},{"l":"D8","a":24,"v":-0.42},{"l":"D8","a":25,"v":-0.416},{"l":"D8","a":27,"v":-0.408},{"l":"D8","a":29,"v":-0.41},{"l":"D8","a":32,"v":-0.401},{"l":"D8","a":34,"v":-0.423},{"l":"D8","a":36,"v":-0.428},{"l":"D8","a":40,"v":-0.43},{"l":"D8","a":44,"v":-0.43},{"l":"D8","a":48,"v":-0.442},{"l":"D8","a":55,"v":-0.445},{"l":"D8","a":74,"v":-0.446},
{"l":"D9","a":0.42,"v":0},{"l":"D9","a":4,"v":-0.015},{"l":"D9","a":13,"v":-0.346},{"l":"D9","a":17,"v":-0.404},{"l":"D9","a":19,"v":-0.409},{"l":"D9","a":21,"v":-0.409},{"l":"D9","a":22,"v":-0.409},{"l":"D9","a":24,"v":-0.406},{"l":"D9","a":25,"v":-0.401},{"l":"D9","a":27,"v":-0.396},{"l":"D9","a":29,"v":-0.398},{"l":"D9","a":32,"v":-0.391},{"l":"D9","a":34,"v":-0.414},{"l":"D9","a":36,"v":-0.419},{"l":"D9","a":40,"v":-0.421},{"l":"D9","a":44,"v":-0.421},{"l":"D9","a":48,"v":-0.431},{"l":"D9","a":55,"v":-0.433},{"l":"D9","a":74,"v":-0.433},
{"l":"D10","a":0.42,"v":0},{"l":"D10","a":4,"v":-0.016},{"l":"D10","a":13,"v":-0.351},{"l":"D10","a":17,"v":-0.421},{"l":"D10","a":19,"v":-0.426},{"l":"D10","a":21,"v":-0.426},{"l":"D10","a":22,"v":-0.426},{"l":"D10","a":24,"v":-0.423},{"l":"D10","a":25,"v":-0.419},{"l":"D10","a":27,"v":-0.411},{"l":"D10","a":29,"v":-0.413},{"l":"D10","a":32,"v":-0.404},{"l":"D10","a":34,"v":-0.426},{"l":"D10","a":36,"v":-0.431},{"l":"D10","a":40,"v":-0.433},{"l":"D10","a":44,"v":-0.433},{"l":"D10","a":48,"v":-0.445},{"l":"D10","a":55,"v":-0.448},{"l":"D10","a":74,"v":-0.449},
{"l":"D5","a":0.42,"v":0},{"l":"D5","a":4,"v":-0.015},{"l":"D5","a":13,"v":-0.36},{"l":"D5","a":17,"v":-0.44},{"l":"D5","a":19,"v":-0.455},{"l":"D5","a":21,"v":-0.463},{"l":"D5","a":22,"v":-0.462},{"l":"D5","a":24,"v":-0.46},{"l":"D5","a":25,"v":-0.457},{"l":"D5","a":27,"v":-0.453},{"l":"D5","a":29,"v":-0.455},{"l":"D5","a":32,"v":-0.448},{"l":"D5","a":34,"v":-0.46},{"l":"D5","a":36,"v":-0.466},{"l":"D5","a":40,"v":-0.466},{"l":"D5","a":44,"v":-0.466},{"l":"D5","a":48,"v":-0.476},{"l":"D5","a":55,"v":-0.482},{"l":"D5","a":74,"v":-0.487},
{"l":"T3","a":0.42,"v":0},{"l":"T3","a":4,"v":-0.012},{"l":"T3","a":13,"v":-0.35},{"l":"T3","a":17,"v":-0.41},{"l":"T3","a":19,"v":-0.42},{"l":"T3","a":21,"v":-0.425},{"l":"T3","a":22,"v":-0.432},{"l":"T3","a":24,"v":-0.436},{"l":"T3","a":25,"v":-0.438},{"l":"T3","a":27,"v":-0.44},{"l":"T3","a":29,"v":-0.443},{"l":"T3","a":32,"v":-0.444},{"l":"T3","a":34,"v":-0.45},{"l":"T3","a":36,"v":-0.454},{"l":"T3","a":40,"v":-0.458},{"l":"T3","a":44,"v":-0.462},{"l":"T3","a":48,"v":-0.471},{"l":"T3","a":55,"v":-0.474},{"l":"T3","a":74,"v":-0.476},
{"l":"LV1","a":0.42,"v":0},{"l":"LV1","a":4,"v":-0.015},{"l":"LV1","a":13,"v":-0.36},{"l":"LV1","a":17,"v":-0.458},{"l":"LV1","a":19,"v":-0.465},{"l":"LV1","a":21,"v":-0.468},{"l":"LV1","a":22,"v":-0.467},{"l":"LV1","a":24,"v":-0.465},{"l":"LV1","a":25,"v":-0.463},{"l":"LV1","a":27,"v":-0.46},{"l":"LV1","a":29,"v":-0.462},{"l":"LV1","a":32,"v":-0.455},{"l":"LV1","a":34,"v":-0.47},{"l":"LV1","a":36,"v":-0.475},{"l":"LV1","a":40,"v":-0.478},{"l":"LV1","a":44,"v":-0.478},{"l":"LV1","a":48,"v":-0.49},{"l":"LV1","a":55,"v":-0.493},{"l":"LV1","a":74,"v":-0.496},
{"l":"LV2","a":0.42,"v":0},{"l":"LV2","a":4,"v":-0.015},{"l":"LV2","a":13,"v":-0.37},{"l":"LV2","a":17,"v":-0.468},{"l":"LV2","a":19,"v":-0.475},{"l":"LV2","a":21,"v":-0.478},{"l":"LV2","a":22,"v":-0.477},{"l":"LV2","a":24,"v":-0.475},{"l":"LV2","a":25,"v":-0.472},{"l":"LV2","a":27,"v":-0.47},{"l":"LV2","a":29,"v":-0.471},{"l":"LV2","a":32,"v":-0.465},{"l":"LV2","a":34,"v":-0.48},{"l":"LV2","a":36,"v":-0.485},{"l":"LV2","a":40,"v":-0.49},{"l":"LV2","a":44,"v":-0.49},{"l":"LV2","a":48,"v":-0.5},{"l":"LV2","a":55,"v":-0.503},{"l":"LV2","a":74,"v":-0.505},
{"l":"L1","a":0.42,"v":0},{"l":"L1","a":4,"v":-0.02},{"l":"L1","a":13,"v":-0.46},{"l":"L1","a":17,"v":-0.566},{"l":"L1","a":19,"v":-0.585},{"l":"L1","a":21,"v":-0.59},{"l":"L1","a":22,"v":-0.59},{"l":"L1","a":24,"v":-0.592},{"l":"L1","a":25,"v":-0.592},{"l":"L1","a":27,"v":-0.59},{"l":"L1","a":29,"v":-0.59},{"l":"L1","a":32,"v":-0.588},{"l":"L1","a":34,"v":-0.595},{"l":"L1","a":36,"v":-0.597},{"l":"L1","a":40,"v":-0.6},{"l":"L1","a":44,"v":-0.6},{"l":"L1","a":48,"v":-0.61},{"l":"L1","a":55,"v":-0.612},{"l":"L1","a":74,"v":-0.615},
{"l":"L2","a":0.42,"v":0},{"l":"L2","a":4,"v":-0.02},{"l":"L2","a":13,"v":-0.455},{"l":"L2","a":17,"v":-0.5},{"l":"L2","a":19,"v":-0.503},{"l":"L2","a":21,"v":-0.505},{"l":"L2","a":22,"v":-0.505},{"l":"L2","a":24,"v":-0.503},{"l":"L2","a":25,"v":-0.5},{"l":"L2","a":27,"v":-0.5},{"l":"L2","a":29,"v":-0.5},{"l":"L2","a":32,"v":-0.498},{"l":"L2","a":34,"v":-0.51},{"l":"L2","a":36,"v":-0.512},{"l":"L2","a":40,"v":-0.515},{"l":"L2","a":44,"v":-0.515},{"l":"L2","a":48,"v":-0.518},{"l":"L2","a":55,"v":-0.52},{"l":"L2","a":74,"v":-0.521},
{"l":"L3","a":0.42,"v":0},{"l":"L3","a":4,"v":-0.02},{"l":"L3","a":13,"v":-0.465},{"l":"L3","a":17,"v":-0.515},{"l":"L3","a":19,"v":-0.52},{"l":"L3","a":21,"v":-0.522},{"l":"L3","a":22,"v":-0.522},{"l":"L3","a":24,"v":-0.52},{"l":"L3","a":25,"v":-0.518},{"l":"L3","a":27,"v":-0.516},{"l":"L3","a":29,"v":-0.518},{"l":"L3","a":32,"v":-0.515},{"l":"L3","a":34,"v":-0.527},{"l":"L3","a":36,"v":-0.53},{"l":"L3","a":40,"v":-0.535},{"l":"L3","a":44,"v":-0.535},{"l":"L3","a":48,"v":-0.54},{"l":"L3","a":55,"v":-0.543},{"l":"L3","a":74,"v":-0.544},
{"l":"L4","a":0.42,"v":0},{"l":"L4","a":4,"v":-0.02},{"l":"L4","a":13,"v":-0.468},{"l":"L4","a":17,"v":-0.52},{"l":"L4","a":19,"v":-0.525},{"l":"L4","a":21,"v":-0.527},{"l":"L4","a":22,"v":-0.527},{"l":"L4","a":24,"v":-0.525},{"l":"L4","a":25,"v":-0.523},{"l":"L4","a":27,"v":-0.521},{"l":"L4","a":29,"v":-0.523},{"l":"L4","a":32,"v":-0.52},{"l":"L4","a":34,"v":-0.532},{"l":"L4","a":36,"v":-0.535},{"l":"L4","a":40,"v":-0.54},{"l":"L4","a":44,"v":-0.54},{"l":"L4","a":48,"v":-0.545},{"l":"L4","a":55,"v":-0.547},{"l":"L4","a":74,"v":-0.548},
{"l":"L5","a":0.42,"v":0},{"l":"L5","a":4,"v":-0.02},{"l":"L5","a":13,"v":-0.472},{"l":"L5","a":17,"v":-0.527},{"l":"L5","a":19,"v":-0.532},{"l":"L5","a":21,"v":-0.534},{"l":"L5","a":22,"v":-0.534},{"l":"L5","a":24,"v":-0.532},{"l":"L5","a":25,"v":-0.53},{"l":"L5","a":27,"v":-0.528},{"l":"L5","a":29,"v":-0.53},{"l":"L5","a":32,"v":-0.527},{"l":"L5","a":34,"v":-0.54},{"l":"L5","a":36,"v":-0.543},{"l":"L5","a":40,"v":-0.547},{"l":"L5","a":44,"v":-0.548},{"l":"L5","a":48,"v":-0.552},{"l":"L5","a":55,"v":-0.554},{"l":"L5","a":74,"v":-0.555}
]},
"layer": [
 {"layer": [
  {"data": {"name": "ice"},
   "transform": [{"lookup": "l", "from": {"data": {"name": "fares"}, "key": "l", "fields": ["f"]}}],
   "mark": {"type": "line", "strokeWidth": 2, "strokeOpacity": 0.3, "clip": true},
   "encoding": {
    "x": {"field": "a", "type": "quantitative", "scale": {"domain": [-3.259, 77.679], "nice": false, "zero": false},
          "axis": {"title": "Age", "values": [0,10,20,30,40,50,60,70], "format": "d", "labelPadding": 3, "titlePadding": 18}},
    "y": {"field": "v", "type": "quantitative", "scale": {"domain": [-0.657, 0.264], "nice": false, "zero": false},
          "axis": {"title": "Effect on Probaility of Surviving", "values": [-0.6,-0.4,-0.2,0,0.2], "format": ".1f", "labelPadding": 3, "titlePadding": 25}},
    "detail": {"field": "l"},
    "order": {"field": "a", "type": "quantitative"},
    "color": {"field": "f", "type": "quantitative", "scale": {"scheme": "viridis", "domain": [0, 91.08], "nice": false},
      "legend": {"title": null, "orient": "none", "legendX": 1096, "legendY": 0, "padding": 0, "direction": "vertical",
        "gradientLength": 565, "gradientThickness": 65, "gradientStrokeColor": "black", "gradientStrokeWidth": 1,
        "values": [0,20,40,60,80], "labelOpacity": 0, "labelFontSize": 1}}
   }},
  {"data": {"name": "mean"},
   "mark": {"type": "line", "color": "red", "strokeWidth": 4, "clip": true},
   "encoding": {"x": {"field": "a", "type": "quantitative"}, "y": {"field": "v", "type": "quantitative"}}},
  {"data": {"name": "rug"},
   "mark": {"type": "rule", "color": "black", "strokeWidth": 1.5, "clip": true},
   "encoding": {"x": {"field": "a", "type": "quantitative"}, "y": {"datum": -0.612}, "y2": {"datum": -0.657}}}
 ]},
 {"data": {"name": "mean"},
  "mark": {"type": "rule", "opacity": 0},
  "encoding": {"y": {"datum": 0, "type": "quantitative", "scale": {"domain": [0, 91.08], "nice": false, "zero": false},
    "axis": {"orient": "right", "offset": 171, "title": "Fare", "titleAngle": 270, "values": [0,20,40,60,80], "format": "d",
      "tickSize": 7, "labelPadding": 8, "titlePadding": 35, "titleFontSize": 18.5}}}}
],
"resolve": {"scale": {"y": "independent"}, "axis": {"y": "independent"}}
}
